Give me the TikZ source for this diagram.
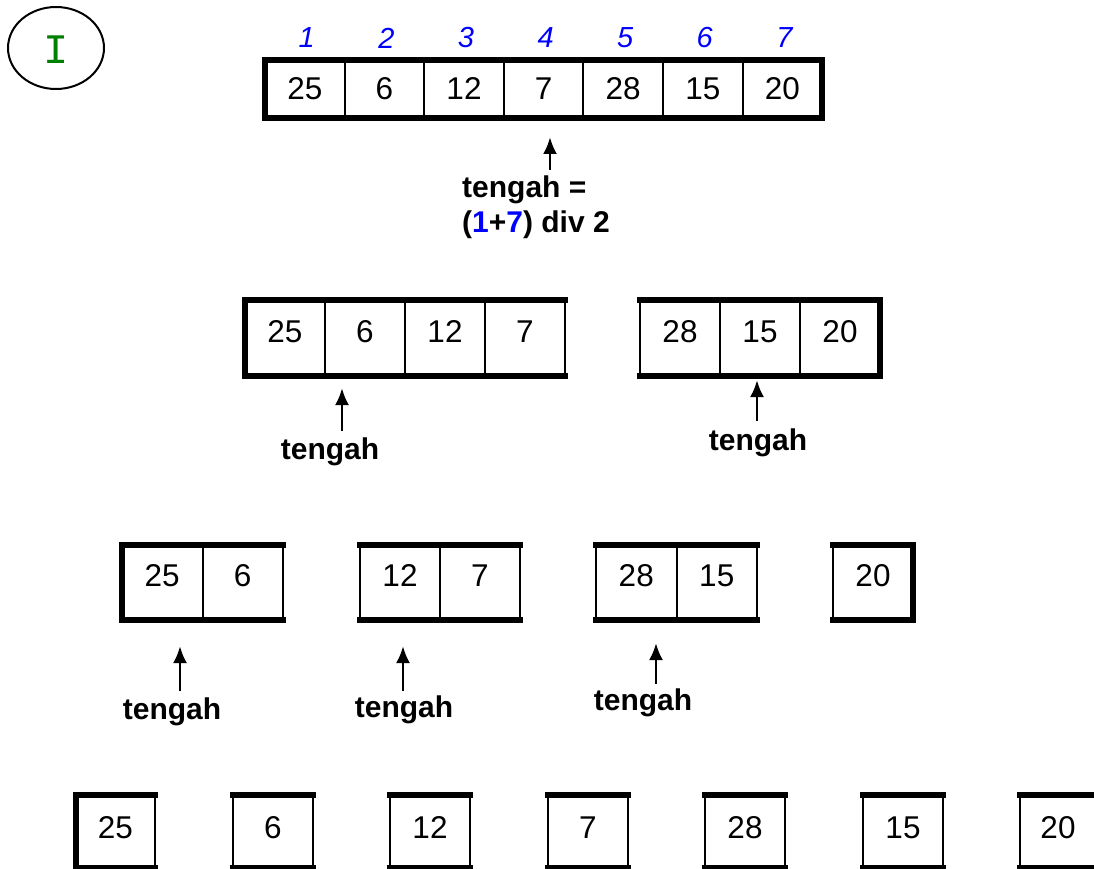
\documentclass[tikz,border=0pt]{standalone}
\usepackage{fontspec}
\setmainfont{Liberation Sans}
\newfontfamily\monofont{Liberation Mono}
\usetikzlibrary{arrows.meta,shapes.geometric}
\definecolor{idxblue}{RGB}{0,0,255}
\definecolor{igreen}{RGB}{0,128,0}
\tikzset{
  cell/.style={draw=black, line width=2pt, inner sep=0pt, rectangle},
  num/.style={font=\fontsize{31.5}{36}\selectfont, inner sep=0pt},
  idx/.style={font=\fontsize{29}{34}\selectfont\itshape, text=idxblue, inner sep=0pt},
  lbl/.style={font=\fontsize{30}{35}\selectfont\bfseries, inner sep=0pt},
  heavy/.style={line width=5.5pt, line cap=rect},
  uparrow/.style={line width=2.8pt, -{Latex[length=17pt,width=14pt]}},
}
\newcommand\numshift{0}
% #1 name #2 x0 #3 ytop #4 height #5 cell width #6 count #7 list #8 thick left #9 thick right
\newcommand\drawarr[9]{%
  \foreach \v [count=\i] in {#7} {
    \node[cell, minimum width=#5pt, minimum height=#4pt] (#1\i) at ({#2+(\i-0.5)*#5},{#3+#4/2}) {};
    \node[num] at ([yshift=\numshift pt]#1\i.center) {\v};
  }
  \draw[heavy] (#2,#3) -- ({#2+#6*#5},#3);
  \draw[heavy] (#2,{#3+#4}) -- ({#2+#6*#5},{#3+#4});
  \ifnum#8=1 \draw[heavy] (#2,#3) -- (#2,{#3+#4});\fi
  \ifnum#9=1 \draw[heavy] ({#2+#6*#5},#3) -- ({#2+#6*#5},{#3+#4});\fi
}
\begin{document}
\begin{tikzpicture}[x=1pt,y=-1pt]
\useasboundingbox (0,0) rectangle (1094,869);
\clip (0,0) rectangle (1094,869);

% circle with I
\node[draw=black, line width=2pt, ellipse, minimum width=96pt, minimum height=82pt, inner sep=0pt] (circ) at (56,48) {};
\node[font=\fontsize{42}{46}\selectfont\monofont, text=igreen, inner sep=0pt] (roman) at (56,50) {I};

% top array
\renewcommand\numshift{0}
\drawarr{t}{265}{60}{58}{79.6}{7}{25,6,12,7,28,15,20}{1}{1}
\foreach \i in {1,...,7} {
  \node[idx] (ix\i) at ({265+(\i-0.5)*79.6+2},38) {\i};
}
\coordinate (a0s) at (550,170);
\coordinate (a0e) at (550,137);
\draw[uparrow] (a0s) -- (a0e);
\node[lbl, align=left, anchor=north west] (form) at (462,176) {tengah =\\(\textcolor{idxblue}{1}+\textcolor{idxblue}{7}) div 2};

% row 2
\renewcommand\numshift{6}
\drawarr{b}{245}{300}{76}{80}{4}{25,6,12,7}{1}{0}
\drawarr{c}{640}{300}{76}{80}{3}{28,15,20}{0}{1}
\coordinate (a1s) at (342,431);
\coordinate (a1e) at (342,388);
\draw[uparrow] (a1s) -- (a1e);
\node[lbl] (tg1) at (330,452) {tengah};
\coordinate (a2s) at (757,421);
\coordinate (a2e) at (757,380);
\draw[uparrow] (a2s) -- (a2e);
\node[lbl] (tg2) at (758,443) {tengah};

% row 3
\renewcommand\numshift{7}
\drawarr{d}{122}{545}{75}{80.5}{2}{25,6}{1}{0}
\drawarr{e}{360}{545}{75}{80}{2}{12,7}{0}{0}
\drawarr{f}{596}{545}{75}{80.5}{2}{28,15}{0}{0}
\drawarr{g}{833}{545}{75}{80}{1}{20}{0}{1}
\coordinate (a3s) at (180,691);
\coordinate (a3e) at (180,646);
\draw[uparrow] (a3s) -- (a3e);
\node[lbl] (tg3) at (172,712) {tengah};
\coordinate (a4s) at (403,691);
\coordinate (a4e) at (403,646);
\draw[uparrow] (a4s) -- (a4e);
\node[lbl] (tg4) at (404,710) {tengah};
\coordinate (a5s) at (656,684);
\coordinate (a5e) at (656,643);
\draw[uparrow] (a5s) -- (a5e);
\node[lbl] (tg5) at (643,703) {tengah};

% row 4
\renewcommand\numshift{4}
\drawarr{h}{76}{795}{73}{79}{1}{25}{1}{0}
\drawarr{k}{233}{795}{73}{80}{1}{6}{0}{0}
\drawarr{l}{390}{795}{73}{80}{1}{12}{0}{0}
\drawarr{m}{548}{795}{73}{80}{1}{7}{0}{0}
\drawarr{n}{705}{795}{73}{80}{1}{28}{0}{0}
\drawarr{p}{863}{795}{73}{80}{1}{15}{0}{0}
\drawarr{q}{1020}{795}{73}{76}{1}{20}{0}{0}
\end{tikzpicture}
\end{document}
